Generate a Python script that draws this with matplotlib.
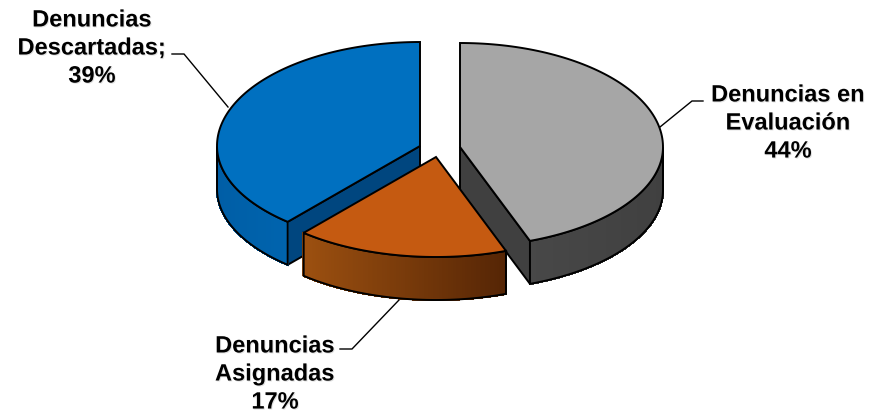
import numpy as np
import matplotlib
matplotlib.use("Agg")
import matplotlib.pyplot as plt
from matplotlib.patches import Polygon
from matplotlib.collections import PolyCollection
import matplotlib.patheffects as pe
from matplotlib.colors import to_rgb

# estimated shares, labels show them rounded
names = ["Denuncias en\nEvaluación", "Denuncias\nDescartadas;", "Denuncias\nAsignadas"]
shares = [44.4, 38.7, 16.9]
top_colors = ["#a6a6a6", "#0070c0", "#c55a11"]
cut_colors = ["#404040", "#00467f", "#7a3a0a"]
wall_left = ["#484848", "#005ea6", "#9c5010"]
wall_right = ["#404040", "#0064ae", "#552505"]

# slice centres in pixels (exploded), order gray, blue, orange
centers = [(460, 147), (420, 146), (436, 157)]
rx = 203
ry_back = 104
ry_front = 100
depth = 43

plt.rcParams["font.family"] = ["Liberation Sans", "DejaVu Sans"]
fig = plt.figure(figsize=(8.69, 4.12), dpi=100)
ax = fig.add_axes([0, 0, 1, 1])
ax.set_xlim(0, 869)
ax.set_ylim(412, 0)
ax.axis("off")


def rim(c, a):
    a = np.radians(a)
    s = np.sin(a)
    y = np.where(s > 0, ry_front, ry_back) * s
    return c[0] + rx * np.cos(a), c[1] + y


# angles go the way of the picture: y is down, so gray runs from -90 to +70
sweeps = np.array(shares) * 3.6
ranges = [
    (-90, -90 + sweeps[0]),
    (-90 - sweeps[1], -90),
    (-90 + sweeps[0], -90 + sweeps[0] + sweeps[2]),
]

for i in [1, 0, 2]:
    c = centers[i]
    a0, a1 = ranges[i]
    ang = np.linspace(a0, a1, 121)
    xs, ys = rim(c, ang)

    # cut face
    if i == 0:
        cut = [(c[0], c[1]), (xs[-1], ys[-1]), (xs[-1], ys[-1] + depth), (c[0], c[1] + depth)]
        ax.add_patch(Polygon(cut, fc=cut_colors[i], ec="black", lw=1.4, zorder=i * 3 + 1))
    if i == 1:
        cut = [(c[0], c[1]), (xs[0], ys[0]), (xs[0], ys[0] + depth), (c[0], c[1] + depth)]
        ax.add_patch(Polygon(cut, fc=cut_colors[i], ec="black", lw=1.4, zorder=i * 3 + 1))

    # outer wall, only where it faces the viewer
    front = np.sin(np.radians(ang)) >= -1e-9
    wx, wy = xs[front], ys[front]
    t = (wx - wx.min()) / (wx.max() - wx.min())
    cl, cr = np.array(to_rgb(wall_left[i])), np.array(to_rgb(wall_right[i]))
    quads, cols = [], []
    for k in range(len(wx) - 1):
        quads.append([(wx[k], wy[k]), (wx[k + 1], wy[k + 1]),
                      (wx[k + 1], wy[k + 1] + depth), (wx[k], wy[k] + depth)])
        cols.append(cl + (cr - cl) * t[k])
    ax.add_collection(PolyCollection(quads, facecolors=cols, edgecolors=cols, linewidths=1,
                                     antialiaseds=False, zorder=i * 3 + 2))
    outline = list(zip(wx, wy)) + list(zip(wx[::-1], wy[::-1] + depth))
    ax.add_patch(Polygon(outline, fc="none", ec="black", lw=1.4, zorder=i * 3 + 2))

    # top face
    top = [c] + list(zip(xs, ys))
    ax.add_patch(Polygon(top, fc=top_colors[i], ec="black", lw=1.4, joinstyle="miter", zorder=i * 3 + 3))

# leader lines
leaders = [
    [(703, 101), (692, 101), (660, 127)],
    [(172, 54), (184, 54), (228, 107)],
    [(340, 349), (352, 349), (399, 300)],
]
for pts in leaders:
    ax.plot(*zip(*pts), color="black", lw=1, zorder=1, solid_joinstyle="miter")

label_pos = [(788, 123), (92, 48), (275, 374)]
for name, share, pos in zip(names, shares, label_pos):
    t = ax.text(pos[0], pos[1], f"{name}\n{round(share)}%", ha="center", va="center",
                fontsize=17, fontweight="bold", color="black", linespacing=1.28)
    t.set_path_effects([pe.withSimplePatchShadow(offset=(0.7, -0.7), shadow_rgbFace="#aaaaaa", alpha=0.35)])

fig.savefig("out.png", dpi=100, facecolor="white")
